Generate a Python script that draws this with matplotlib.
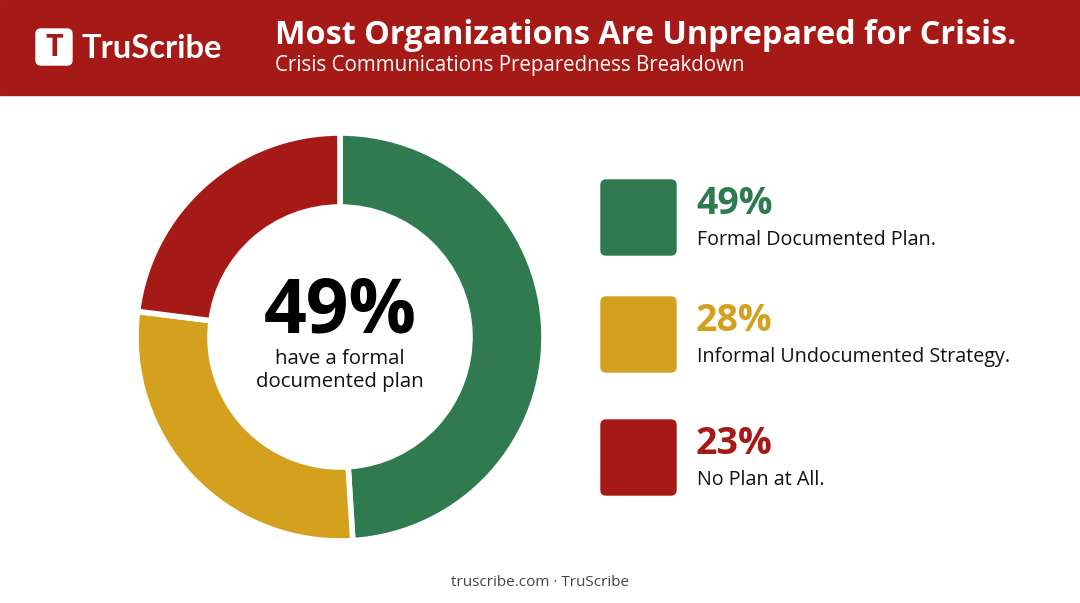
import matplotlib
matplotlib.use("Agg")
import matplotlib.pyplot as plt
from matplotlib.patches import FancyBboxPatch, Rectangle

categories = ["Formal Documented Plan.", "Informal Undocumented Strategy.", "No Plan at All."]
values = [49, 28, 23]
colors = ["#2F7A4E", "#D4A11E", "#A51916"]

W, H = 1080, 603
fig = plt.figure(figsize=(W/100, H/100), dpi=100)
fig.patch.set_facecolor("white")
ax = fig.add_axes([0, 0, 1, 1])
ax.set_xlim(0, W); ax.set_ylim(H, 0); ax.axis("off")

F = "Open Sans"
ax.add_patch(Rectangle((0, 0), W, 95, color="#A51916", zorder=1))
ax.add_patch(FancyBboxPatch((36, 29), 36, 36, boxstyle="round,pad=0,rounding_size=5",
                            color="white", zorder=2))
ax.text(54, 48, "T", color="#A51916", fontsize=22, fontweight="bold", family=F,
        ha="center", va="center", zorder=3)
ax.text(81, 48, "TruScribe", color="white", fontsize=23.5, fontweight="bold", family="Lato",
        ha="left", va="center", zorder=3)
ax.text(275, 35, "Most Organizations Are Unprepared for Crisis.", color="white",
        fontsize=23.3, fontweight="bold", family=F, ha="left", va="center", zorder=3)
ax.text(275, 66, "Crisis Communications Preparedness Breakdown", color="white",
        fontsize=14.8, family=F, ha="left", va="center", zorder=3)

# donut
cx, cy, R = 340, 337, 204
pax = fig.add_axes([(cx-R)/W, 1-(cy+R)/H, 2*R/W, 2*R/H])
pax.pie(values, colors=colors, startangle=90, counterclock=False, radius=1,
        wedgeprops=dict(width=74/204, edgecolor="white", linewidth=4))
pax.set_aspect("equal"); pax.set_xlim(-1.0, 1.0); pax.set_ylim(-1.0, 1.0)
pax.axis("off")

ax.text(cx, 313, f"{values[0]}%", fontsize=54, fontweight="bold", family=F,
        ha="center", va="center", color="black")
ax.text(cx, 371, "have a formal\ndocumented plan", fontsize=14.7, family=F,
        ha="center", va="center", color="#111111", linespacing=1.2)

tops = [180, 297, 420]
for t, v, c, lab in zip(tops, values, colors, categories):
    ax.add_patch(FancyBboxPatch((601, t), 75, 75, boxstyle="round,pad=0,rounding_size=5",
                                color=c))
    ax.text(696, t + 24, f"{v}%", fontsize=27, fontweight="bold", family=F,
            color=c, ha="left", va="center")
    ax.text(697, t + 60, lab, fontsize=14.2, family=F, color="#111111",
            ha="left", va="center")

ax.text(540, 582, "truscribe.com · TruScribe", fontsize=11, family=F,
        color="#444444", ha="center", va="center")

fig.savefig("out.png", dpi=100)
